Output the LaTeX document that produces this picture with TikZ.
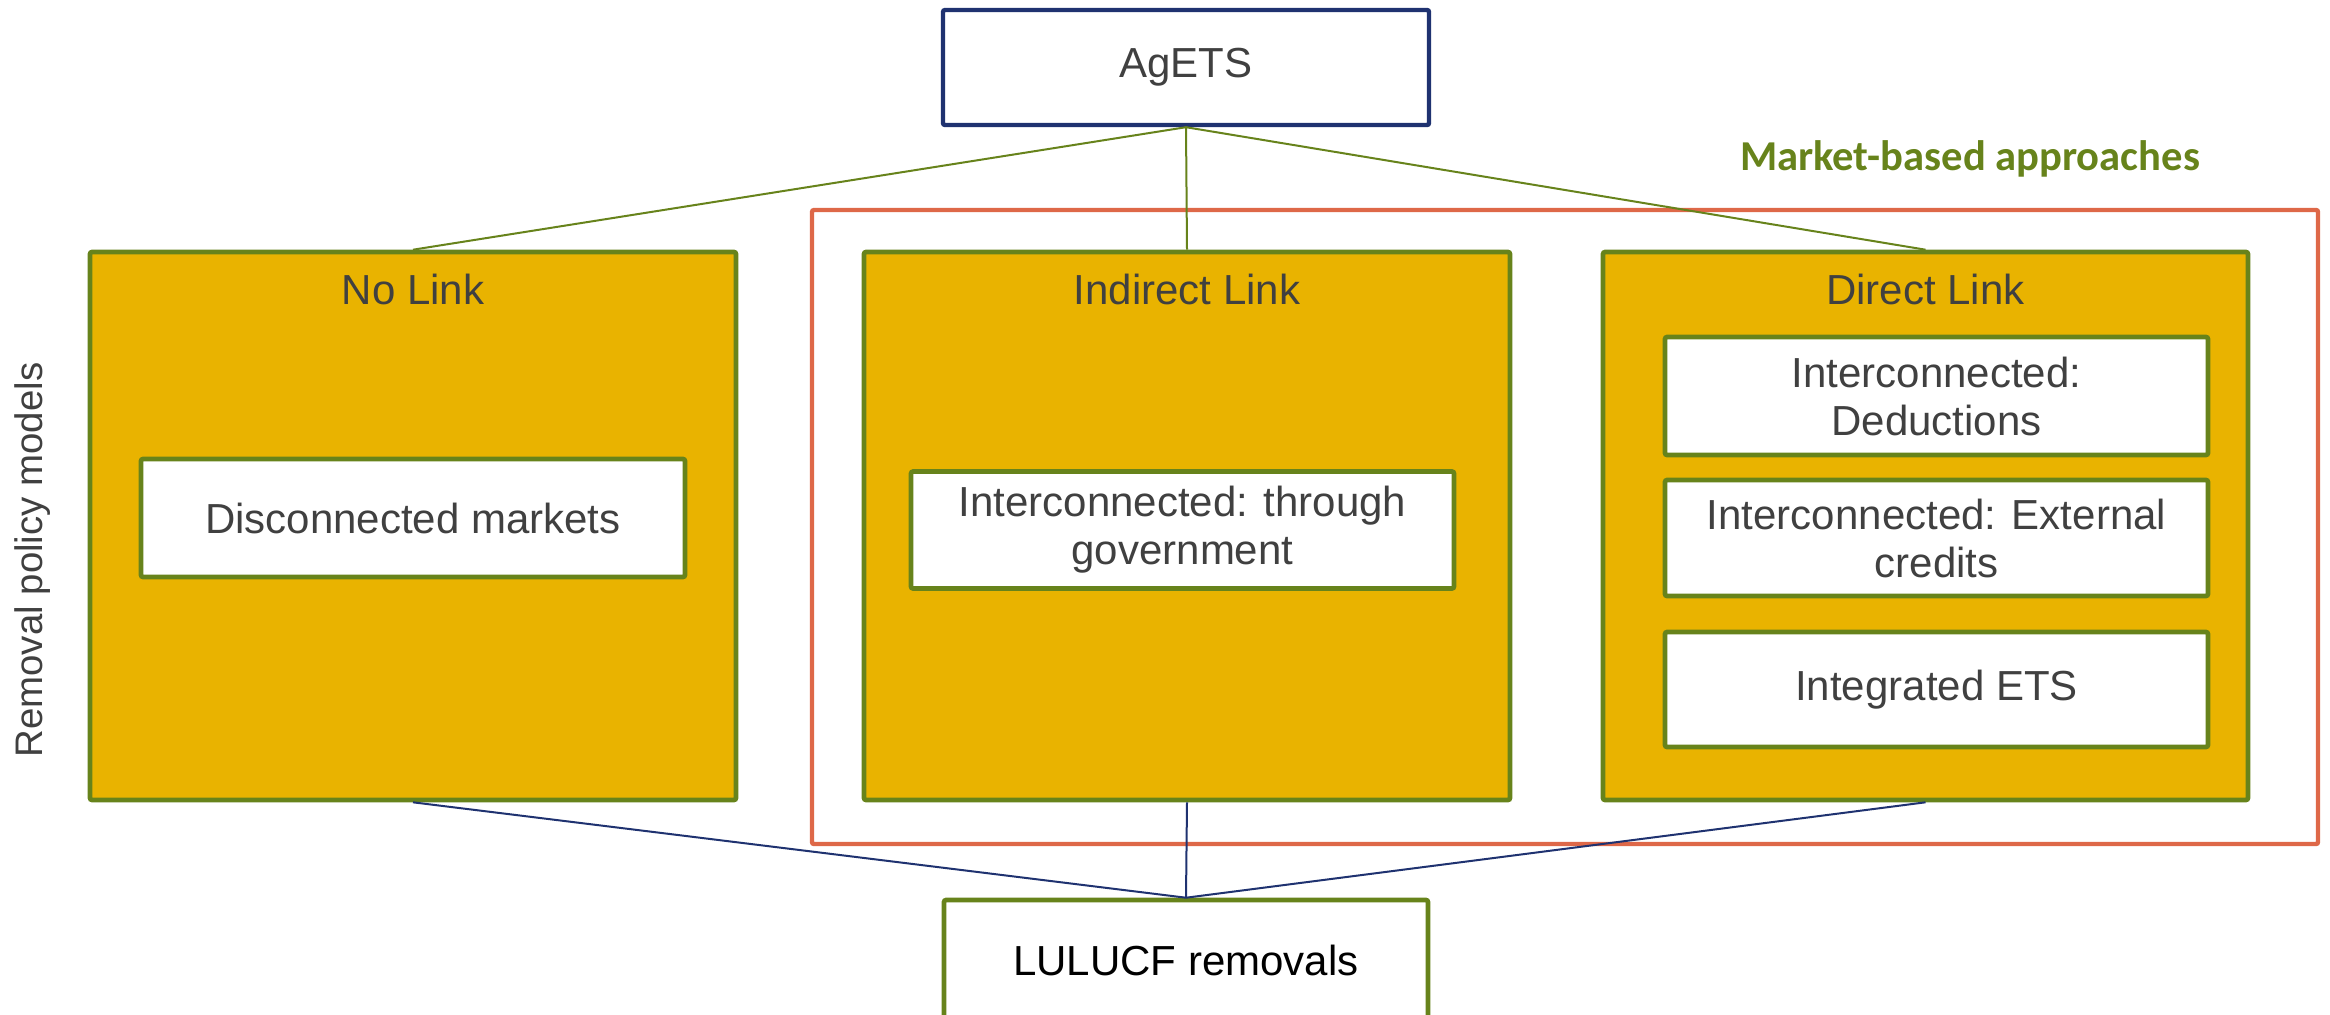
\documentclass[tikz,border=0pt]{standalone}
\usepackage{fontspec}
\setmainfont{Liberation Sans}
\newfontfamily\carlitofont{Carlito}
\usepackage{tikz}

\definecolor{olivegreen}{RGB}{103,131,27}
\definecolor{boxgold}{RGB}{233,179,0}
\definecolor{framered}{RGB}{222,104,72}
\definecolor{navyblue}{RGB}{31,50,112}
\definecolor{darkgray}{RGB}{64,64,64}

\tikzset{
  modelbox/.style={draw=olivegreen, line width=2.3pt, fill=boxgold, rounded corners=1pt,
    minimum width=323pt, minimum height=274pt, inner sep=0pt},
  optionbox/.style={draw=olivegreen, line width=2.3pt, fill=white, rounded corners=1pt,
    minimum width=272pt, minimum height=58pt, inner sep=0pt, align=center,
    text=darkgray, font=\fontsize{21}{24}\selectfont},
  titletext/.style={inner sep=0pt, text=darkgray, font=\fontsize{21}{24}\selectfont},
  uplink/.style={draw=olivegreen, line width=1pt},
  downlink/.style={draw=navyblue, line width=1pt}
}

\begin{document}
\begin{tikzpicture}[x=0.5pt,y=0.5pt,yscale=-1,xscale=1]
\useasboundingbox (0,0) rectangle (2330,1014);

%Shape: Rectangle, market-based frame
\node [draw=framered, line width=2.2pt, rounded corners=1pt, minimum width=753pt, minimum height=317pt, inner sep=0pt] (market) at (1565,527) {};

%Shape: Rectangle, AgETS
\node [draw=navyblue, line width=2.2pt, fill=white, rounded corners=1pt, minimum width=243pt, minimum height=57.5pt, inner sep=0pt, text=darkgray, font=\fontsize{21}{24}\selectfont] (agets) at (1186,67.5) {AgETS};
%Shape: Rectangle, LULUCF
\node [draw=olivegreen, line width=2.3pt, fill=white, rounded corners=1pt, minimum width=242pt, minimum height=60pt, inner sep=0pt, font=\fontsize{21}{24}\selectfont] (lulucf) at (1186,960) {LULUCF removals};

%Shape: Rectangle, model boxes
\node [modelbox] (nolink) at (413,526) {};
\node [modelbox] (indirect) at (1187,526) {};
\node [modelbox, minimum width=322.5pt] (direct) at (1925.5,526) {};

% Text Node
\node [titletext] (nolinktitle) at (413,289) {No Link};
% Text Node
\node [titletext] (indirecttitle) at (1187,289) {Indirect Link};
% Text Node
\node [titletext] (directtitle) at (1925.5,289) {Direct Link};

%Shape: Rectangle, options
\node [optionbox, minimum height=59pt] (disconnected) at (413,518) {Disconnected markets};
\node [optionbox, minimum width=271.5pt, minimum height=58.5pt] (government) at (1182.5,530) {Interconnected: through\\government};
\node [optionbox, minimum width=271.5pt, minimum height=59pt] (deductions) at (1936.5,396) {Interconnected:\\Deductions};
\node [optionbox, minimum width=271.5pt] (external) at (1936.5,538) {Interconnected: External\\credits};
\node [optionbox, minimum width=271.5pt, minimum height=57.5pt] (integrated) at (1936.5,689.5) {Integrated ETS};

%Straight Lines
\draw [uplink] (agets.south) -- (nolink.north);
\draw [uplink] (agets.south) -- (indirect.north);
\draw [uplink] (agets.south) -- (direct.north);
%Straight Lines
\draw [downlink] (nolink.south) -- (lulucf.north);
\draw [downlink] (indirect.south) -- (lulucf.north);
\draw [downlink] (direct.south) -- (lulucf.north);

% Text Node
\node [text=olivegreen, inner sep=0pt, font=\carlitofont\bfseries\fontsize{21.3}{24}\selectfont] (markettitle) at (1970,159) {Market-based approaches};
% Text Node
\node [rotate=90, inner sep=0pt, text=darkgray, font=\fontsize{19.2}{22}\selectfont] (axislabel) at (33,560) {Removal policy models};
\end{tikzpicture}
\end{document}
